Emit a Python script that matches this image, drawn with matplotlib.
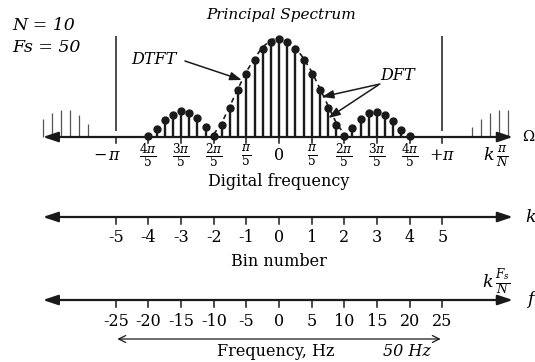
import numpy as np
import matplotlib.pyplot as plt

plt.rcParams['font.family'] = 'DejaVu Serif'
plt.rcParams['mathtext.fontset'] = 'dejavuserif'

# DFT/DTFT samples of the principal spectrum, positions in bins (k), magnitude rel. to peak
stem_k = np.arange(-16, 17) / 4.0
stem_mag = [0.01, 0.079, 0.171, 0.222, 0.263, 0.249, 0.198, 0.102, 0.007,
            0.126, 0.300, 0.478, 0.648, 0.785, 0.900, 0.972, 1.0,
            0.972, 0.897, 0.785, 0.648, 0.478, 0.300, 0.126, 0.007,
            0.095, 0.187, 0.246, 0.256, 0.222, 0.164, 0.075, 0.007]

# aliased copies outside +-pi (thin stems)
alias_left_k = [-7.22, -6.94, -6.67, -6.40, -6.12, -5.86]
alias_left_mag = [0.187, 0.246, 0.279, 0.273, 0.222, 0.130]
alias_right_k = [5.90, 6.18, 6.46, 6.74, 7.02]
alias_right_mag = [0.102, 0.187, 0.246, 0.279, 0.273]

bins = list(range(-5, 6))
omega_labels = [r'$-\,\pi$', r'$\frac{4\pi}{5}$', r'$\frac{3\pi}{5}$', r'$\frac{2\pi}{5}$',
                r'$\frac{\pi}{5}$', '0', r'$\frac{\pi}{5}$', r'$\frac{2\pi}{5}$',
                r'$\frac{3\pi}{5}$', r'$\frac{4\pi}{5}$', r'$+\pi$']
freqs = [-25, -20, -15, -10, -5, 0, 5, 10, 15, 20, 25]

# layout (pixel rows)
OM_Y, BIN_Y, F_Y = 137, 217, 300
AMP = 97.7
ink = '#1a1a1a'

fig = plt.figure(figsize=(5.35, 3.62), dpi=100)
ax = fig.add_axes([0, 0, 1, 1])
ax.set_xlim(-8.543, 7.838)
ax.set_ylim(362, 0)
ax.axis('off')

def axis_line(y):
    ax.annotate('', xy=(7.16, y), xytext=(-7.23, y),
                arrowprops=dict(arrowstyle='<|-|>,head_length=0.9,head_width=0.3',
                                color=ink, lw=1.6, shrinkA=0, shrinkB=0))

# ---- digital frequency axis ----
ax.vlines(alias_left_k, OM_Y, OM_Y - AMP * np.array(alias_left_mag), color='#555555', lw=0.9)
ax.vlines(alias_right_k, OM_Y, OM_Y - AMP * np.array(alias_right_mag), color='#555555', lw=0.9)
axis_line(OM_Y)
ax.vlines([-5, 5], 36, 131, color=ink, lw=1.1)

tops = OM_Y - AMP * np.array(stem_mag)
ax.vlines(stem_k, OM_Y, tops, color=ink, lw=1.7)
ax.plot(stem_k, tops, 'o', color=ink, ms=5)
main = (stem_k >= -2) & (stem_k <= 2)
ax.plot(stem_k[main], tops[main] - 2, ls=(0, (3, 2.5)), color=ink, lw=1.2)

for k, lab in zip(bins, omega_labels):
    ax.plot([k, k], [OM_Y, OM_Y + 6], color=ink, lw=1.1)
    fs = 12.5 if 'frac' in lab else 11.5
    dx = -0.25 if k == -5 else 0
    ax.text(k + dx, OM_Y + 19, lab, ha='center', va='center', fontsize=fs)
ax.text(7.45, OM_Y, 'Ω', ha='left', va='center', fontsize=10.5)
ax.text(6.65, OM_Y + 20, r'$k\,\frac{\pi}{N}$', ha='center', va='center', fontsize=12.5)
ax.text(0, 182, 'Digital frequency', ha='center', va='center', fontsize=11.5)

# ---- bin axis ----
axis_line(BIN_Y)
for k in bins:
    ax.plot([k, k], [BIN_Y, BIN_Y + 7], color=ink, lw=1.1)
    ax.text(k, BIN_Y + 21, str(k), ha='center', va='center', fontsize=11.5)
ax.text(7.53, BIN_Y, 'k', style='italic', ha='left', va='center', fontsize=12.5)
ax.text(0, 261, 'Bin number', ha='center', va='center', fontsize=11.5)

# ---- frequency axis ----
axis_line(F_Y)
for k, f in zip(bins, freqs):
    ax.plot([k, k], [F_Y, F_Y + 7], color=ink, lw=1.1)
    ax.text(k, F_Y + 22, str(f), ha='center', va='center', fontsize=11.5)
ax.text(7.58, F_Y, 'f', style='italic', ha='left', va='center', fontsize=12.5)
ax.text(6.65, 282, r'$k\,\frac{F_s}{N}$', ha='center', va='center', fontsize=12.5)
ax.annotate('', xy=(4.95, 339), xytext=(-4.95, 339),
            arrowprops=dict(arrowstyle='<->,head_length=0.5,head_width=0.25',
                            color=ink, lw=0.9, shrinkA=0, shrinkB=0))
ax.text(-0.1, 352, 'Frequency, Hz', ha='center', va='center', fontsize=11.5)
ax.text(3.92, 352, '50 Hz', style='italic', ha='center', va='center', fontsize=11.5)

# ---- annotations ----
ax.text(-8.18, 25, 'N = 10', style='italic', ha='left', va='center', fontsize=12.5)
ax.text(-8.18, 48, 'Fs = 50', style='italic', ha='left', va='center', fontsize=12.5)
ax.text(0.05, 15, 'Principal Spectrum', style='italic', ha='center', va='center', fontsize=11)
ax.text(-3.83, 60, 'DTFT', style='italic', ha='center', va='center', fontsize=11.5)
ax.text(3.63, 75, 'DFT', style='italic', ha='center', va='center', fontsize=11.5)
arr = dict(arrowstyle='-|>,head_length=0.7,head_width=0.25', color=ink, lw=1.1,
           shrinkA=0, shrinkB=0)
ax.annotate('', xy=(-1.14, 80), xytext=(-2.88, 61), arrowprops=arr)
ax.annotate('', xy=(1.31, 97), xytext=(3.09, 84), arrowprops=arr)
ax.annotate('', xy=(1.51, 118), xytext=(3.04, 85), arrowprops=arr)

fig.savefig('out.png', dpi=100)
